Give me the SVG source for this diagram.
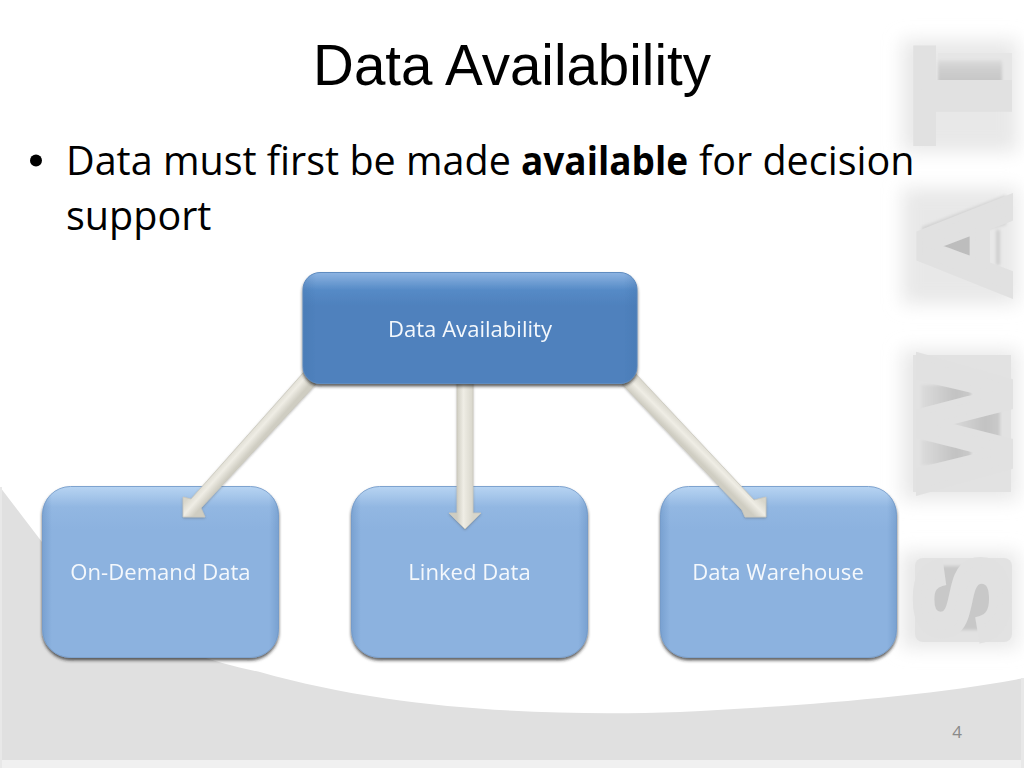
<svg xmlns="http://www.w3.org/2000/svg" width="1024" height="768" viewBox="0 0 1024 768">
<defs>
<style>
.wm{font-family:"Liberation Sans",Arial,sans-serif;font-weight:700;font-size:131px;fill:#e1e1e1;stroke:#e1e1e1;stroke-width:6;stroke-linejoin:miter}
.lbl{font-family:"Open Sans","Noto Sans",sans-serif;font-size:22.1px;fill:#f4f8fc;text-anchor:middle}
.body{font-family:"Open Sans","Noto Sans",sans-serif;font-size:39.5px;fill:#000}
.arrow{stroke:#cac8bc;stroke-width:.8}
.low{fill:url(#lowGrad);stroke:#7ea3cf}
.side{fill:url(#side)}
</style>
<linearGradient id="topGrad" x1="0" y1="0" x2="0" y2="1">
<stop offset="0" stop-color="#8db4e2"/><stop offset=".16" stop-color="#558ac6"/><stop offset=".3" stop-color="#4f81bd"/><stop offset="1" stop-color="#4f81bd"/>
</linearGradient>
<linearGradient id="lowGrad" x1="0" y1="0" x2="0" y2="1">
<stop offset="0" stop-color="#b7d4f2"/><stop offset=".12" stop-color="#92b7e2"/><stop offset=".25" stop-color="#8cb2df"/><stop offset="1" stop-color="#8cb2df"/>
</linearGradient>
<linearGradient id="side" x1="0" y1="0" x2="1" y2="0">
<stop offset="0" stop-color="#3f6ea6" stop-opacity=".25"/><stop offset=".04" stop-color="#3f6ea6" stop-opacity="0"/><stop offset=".96" stop-color="#3f6ea6" stop-opacity="0"/><stop offset="1" stop-color="#3f6ea6" stop-opacity=".25"/>
</linearGradient>
<linearGradient id="aC" gradientUnits="userSpaceOnUse" x1="457" y1="0" x2="473" y2="0">
<stop offset="0" stop-color="#cfcdc2"/><stop offset=".4" stop-color="#efede5"/><stop offset="1" stop-color="#d8d6cb"/>
</linearGradient>
<linearGradient id="aL" gradientUnits="userSpaceOnUse" x1="244" y1="434.700" x2="256" y2="445.300">
<stop offset="0" stop-color="#d8d6cb"/><stop offset=".5" stop-color="#efede5"/><stop offset="1" stop-color="#cfcdc2"/>
</linearGradient>
<linearGradient id="aR" gradientUnits="userSpaceOnUse" x1="694" y1="456" x2="706" y2="444">
<stop offset="0" stop-color="#cfcdc2"/><stop offset=".5" stop-color="#efede5"/><stop offset="1" stop-color="#d8d6cb"/>
</linearGradient>
<linearGradient id="dark" x1="0" y1="0" x2="1" y2="0">
<stop offset="0" stop-color="#dcdcdc"/><stop offset=".7" stop-color="#c2c2c2"/><stop offset="1" stop-color="#cacaca"/>
</linearGradient>
<linearGradient id="darkV" x1="0" y1="0" x2="0" y2="1">
<stop offset="0" stop-color="#dedede"/><stop offset=".3" stop-color="#d0d0d0"/><stop offset="1" stop-color="#c4c4c4"/>
</linearGradient>
<filter id="b12" x="-40%" y="-40%" width="180%" height="180%"><feGaussianBlur stdDeviation="9"/></filter>
<filter id="b2" x="-20%" y="-20%" width="140%" height="140%"><feGaussianBlur stdDeviation="1.500"/></filter>
<filter id="shadow" x="-10%" y="-10%" width="120%" height="125%"><feDropShadow dx="0" dy="2.500" stdDeviation="1.500" flood-color="#222" flood-opacity=".72"/></filter>
<filter id="ashadow" x="-20%" y="-20%" width="140%" height="140%"><feDropShadow dx="0" dy="1" stdDeviation="1" flood-color="#555" flood-opacity=".4"/></filter>
</defs>
<rect width="1024" height="768" fill="#fff"/>
<g id="background">
<path d="M0 487L42 542C90 610 170 655 260 672C400 712 560 716 680 712C800 706 930 696 1024 678V768H0Z" fill="#e0e0e0"/>
<rect y="760" width="1024" height="8" fill="#f0f0f0"/>
<rect x="1021" y="678" width="3" height="90" fill="#e8e8e8"/>
<rect x="0" y="487" width="2" height="281" fill="#e8e8e8"/>
</g>
<g id="watermark">
<g filter="url(#b12)" fill="#e8e8e8">
<rect x="902" y="40" width="116" height="112"/>
<rect x="902" y="188" width="116" height="116"/>
<rect x="902" y="350" width="116" height="150"/>
<rect x="902" y="552" width="116" height="96"/>
</g>
<g fill="#e2e2e2">
<rect x="913" y="355" width="98" height="137"/>
<rect x="915" y="558" width="97" height="84" rx="8"/>
<rect x="938" y="53" width="74" height="30" fill="#e6e6e6"/>
</g>
<g filter="url(#b2)">
<rect x="938" y="60" width="64" height="24" fill="url(#darkV)"/>
<path d="M922 227L1006 195V225L922 245Z" fill="#d2d2d2"/>
<rect x="938" y="232" width="38" height="30" fill="#bdbdbd"/>
<rect x="996" y="230" width="4" height="35" fill="#cfcfcf"/>
<rect x="921" y="385" width="50" height="25" fill="url(#dark)"/>
<rect x="921" y="440" width="50" height="25" fill="url(#dark)"/>
<rect x="950" y="411" width="50" height="29" fill="url(#dark)"/>
<rect x="932" y="566" width="62" height="64" fill="#c8c8c8"/>
</g>
<text class="wm" transform="translate(1008,143) rotate(-90) scale(1.18,1)" style="stroke-width:8">T</text>
<text class="wm" transform="translate(1009.500,298) rotate(-90) scale(1.1,1)">A</text>
<text class="wm" transform="translate(1009.500,492) rotate(-90) scale(1.1,1)">W</text>
<text class="wm" transform="translate(1006,642) rotate(-90) scale(.98,.96)" style="stroke-width:9">S</text>
</g>
<text id="title" x="512" y="85" font-family="Liberation Sans, Arial, sans-serif" font-size="56.500px" fill="#000" text-anchor="middle">Data Availability</text>
<g id="bullets">
<circle cx="36" cy="160.500" r="6" fill="#000"/>
<text class="body" x="66" y="175">Data must first be made</text>
<text class="body" x="521" y="175" font-weight="700" textLength="167" lengthAdjust="spacingAndGlyphs">available</text>
<text class="body" x="699" y="175">for decision</text>
<text class="body" x="66" y="230">support</text>
</g>
<g id="n-demand" filter="url(#shadow)">
<rect class="low" x="42.500" y="486.500" width="236" height="171" rx="28"/>
<rect class="side" x="42.500" y="486.500" width="236" height="171" rx="28"/>
<text class="lbl" x="160.500" y="580">On-Demand Data</text>
</g>
<g id="n-linked" filter="url(#shadow)">
<rect class="low" x="351.500" y="486.500" width="236" height="171" rx="28"/>
<rect class="side" x="351.500" y="486.500" width="236" height="171" rx="28"/>
<text class="lbl" x="469.500" y="580">Linked Data</text>
</g>
<g id="n-warehouse" filter="url(#shadow)">
<rect class="low" x="660.500" y="486.500" width="236" height="171" rx="28"/>
<rect class="side" x="660.500" y="486.500" width="236" height="171" rx="28"/>
<text class="lbl" x="778" y="580">Data Warehouse</text>
</g>
<g id="connectors" filter="url(#ashadow)">
<path class="arrow" fill="url(#aC)" d="M457 380H473V513H481L465 529L449 513H457Z"/>
<path class="arrow" fill="url(#aL)" d="M304 372L316 384L201 508L205 517H183V497L191 499Z"/>
<path class="arrow" fill="url(#aR)" d="M622 384L634 372L754 500L766 497V517H745L742 510Z"/>
</g>
<g id="n-top" filter="url(#shadow)">
<rect x="303" y="272.500" width="334" height="111" rx="17" fill="url(#topGrad)" stroke="#5f8cc0"/>
<rect class="side" x="303" y="272.500" width="334" height="111" rx="17"/>
<text class="lbl" x="470" y="337">Data Availability</text>
</g>
<text id="pagenum" x="957" y="738" font-family="Open Sans, sans-serif" font-size="17px" fill="#8a8a8a" text-anchor="middle">4</text>
</svg>
